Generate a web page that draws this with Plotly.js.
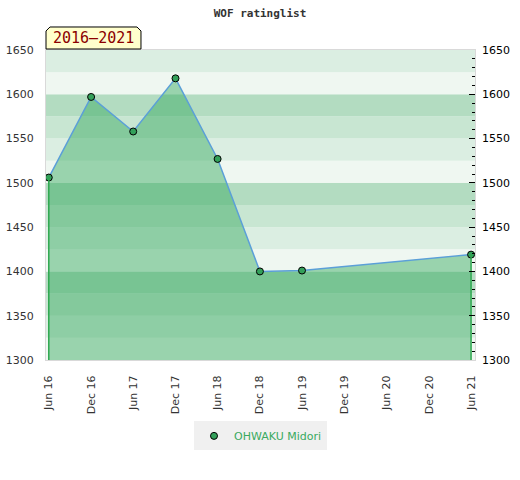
<!DOCTYPE html>
<html>
<head>
<meta charset="utf-8">
<script src="https://cdn.plot.ly/plotly-3.0.1.min.js"></script>
<style>html,body{margin:0;padding:0;background:#fff;}#chart{width:520px;height:480px;}</style>
</head>
<body>
<div id="chart"></div>
<script>
// ---- data ----
const dates = ['2016-06-01','2016-12-01','2017-06-01','2017-12-01','2018-06-01','2018-12-01','2019-06-01','2021-06-01'];
const ratings = [1506, 1597, 1558, 1618, 1527, 1400, 1401, 1419];
const playerName = 'OHWAKU Midori';
const periodLabel = '2016–2021';
const chartTitle = 'WOF ratinglist';
const yMin = 1300, yMax = 1650;

// ---- background bands (decoration) ----
const bandColors = {0:'#b3dcc1', 75:'#c8e6d2', 50:'#dbeee2', 25:'#eff7f1'};
const shapes = [];
for (let v = yMin; v < yMax; v += 25) {
  const top = v + 25;
  shapes.push({type:'rect', xref:'paper', yref:'y', x0:0, x1:1, y0:v, y1:top,
    fillcolor: bandColors[top % 100], line:{width:0}, layer:'below'});
}
// period label box
shapes.push({type:'path', xref:'paper', yref:'paper',
  path:'M 0,1.0032 L 0,1.0613 L 0.0093,1.0742 L 0.2121,1.0742 L 0.2214,1.0613 L 0.2214,1.0032 Z',
  fillcolor:'#ffffcc', line:{color:'#000', width:1}, layer:'above'});

const n = dates.length;
const traces = [
  {x: dates, y: ratings, type:'scatter', mode:'lines', fill:'tozeroy',
   fillcolor:'rgba(49,166,91,0.45)', line:{color:'#5b9fd8', width:1.5},
   showlegend:false, hoverinfo:'skip'},
  {x:[dates[0], dates[0]], y:[yMin, ratings[0]], type:'scatter', mode:'lines',
   line:{color:'#2ea84f', width:1.5}, showlegend:false, yaxis:'y2'},
  {x:[dates[n-1], dates[n-1]], y:[yMin, ratings[n-1]], type:'scatter', mode:'lines',
   line:{color:'#2ea84f', width:1.5}, showlegend:false, yaxis:'y2'},
  {x: dates, y: ratings, type:'scatter', mode:'markers', name: playerName,
   marker:{color:'#33a05a', size:7, line:{color:'#000', width:1}}}
];

const layout = {
  width:520, height:480,
  margin:{l:46, r:45, t:50, b:120},
  paper_bgcolor:'#fff', plot_bgcolor:'#fff',
  title:{text:chartTitle, x:0.5, xanchor:'center', y:1-13/480, yanchor:'middle', yref:'container',
    font:{family:'DejaVu Sans Mono', size:11, color:'#333', weight:'bold'}},
  xaxis:{type:'date', range:['2016-05-20','2021-06-18'], tick0:'2016-06-01', dtick:'M6',
    tickformat:'%b %y', tickangle:-90, showgrid:false, zeroline:false,
    showline:true, linecolor:'#d9d9d9', mirror:true, ticks:'', ticklabelstandoff:10,
    tickfont:{family:'DejaVu Sans', size:11, color:'#333'}},
  yaxis:{range:[yMin, yMax], dtick:50, showgrid:false, zeroline:false,
    showline:true, linecolor:'#d9d9d9', mirror:true, ticks:'', ticklabelstandoff:9,
    tickfont:{family:'DejaVu Sans', size:11, color:'#333'}},
  yaxis2:{range:[yMin, yMax], dtick:50, overlaying:'y', side:'right', showgrid:false,
    zeroline:false, showline:false, ticks:'inside', ticklen:6, tickcolor:'#000', tickwidth:1,
    minor:{dtick:10, ticks:'inside', ticklen:3, tickcolor:'#000', showgrid:false},
    ticklabelstandoff:6, tickfont:{family:'DejaVu Sans', size:11, color:'#000'}},
  shapes: shapes,
  annotations:[{text:periodLabel, xref:'paper', yref:'paper', x:0.1107, y:(360-38)/310,
    xanchor:'center', yanchor:'middle', showarrow:false,
    font:{family:'DejaVu Sans Mono', size:15, color:'#8b0000'}}],
  legend:{orientation:'h', x:0.5, xanchor:'center', y:-0.198, yanchor:'top',
    bgcolor:'#f0f0f0', font:{family:'DejaVu Sans', size:11, color:'#3aaa5f'}, itemwidth:30},
  showlegend:true
};

Plotly.newPlot('chart', traces, layout, {displayModeBar:false, staticPlot:true});
</script>
</body>
</html>
